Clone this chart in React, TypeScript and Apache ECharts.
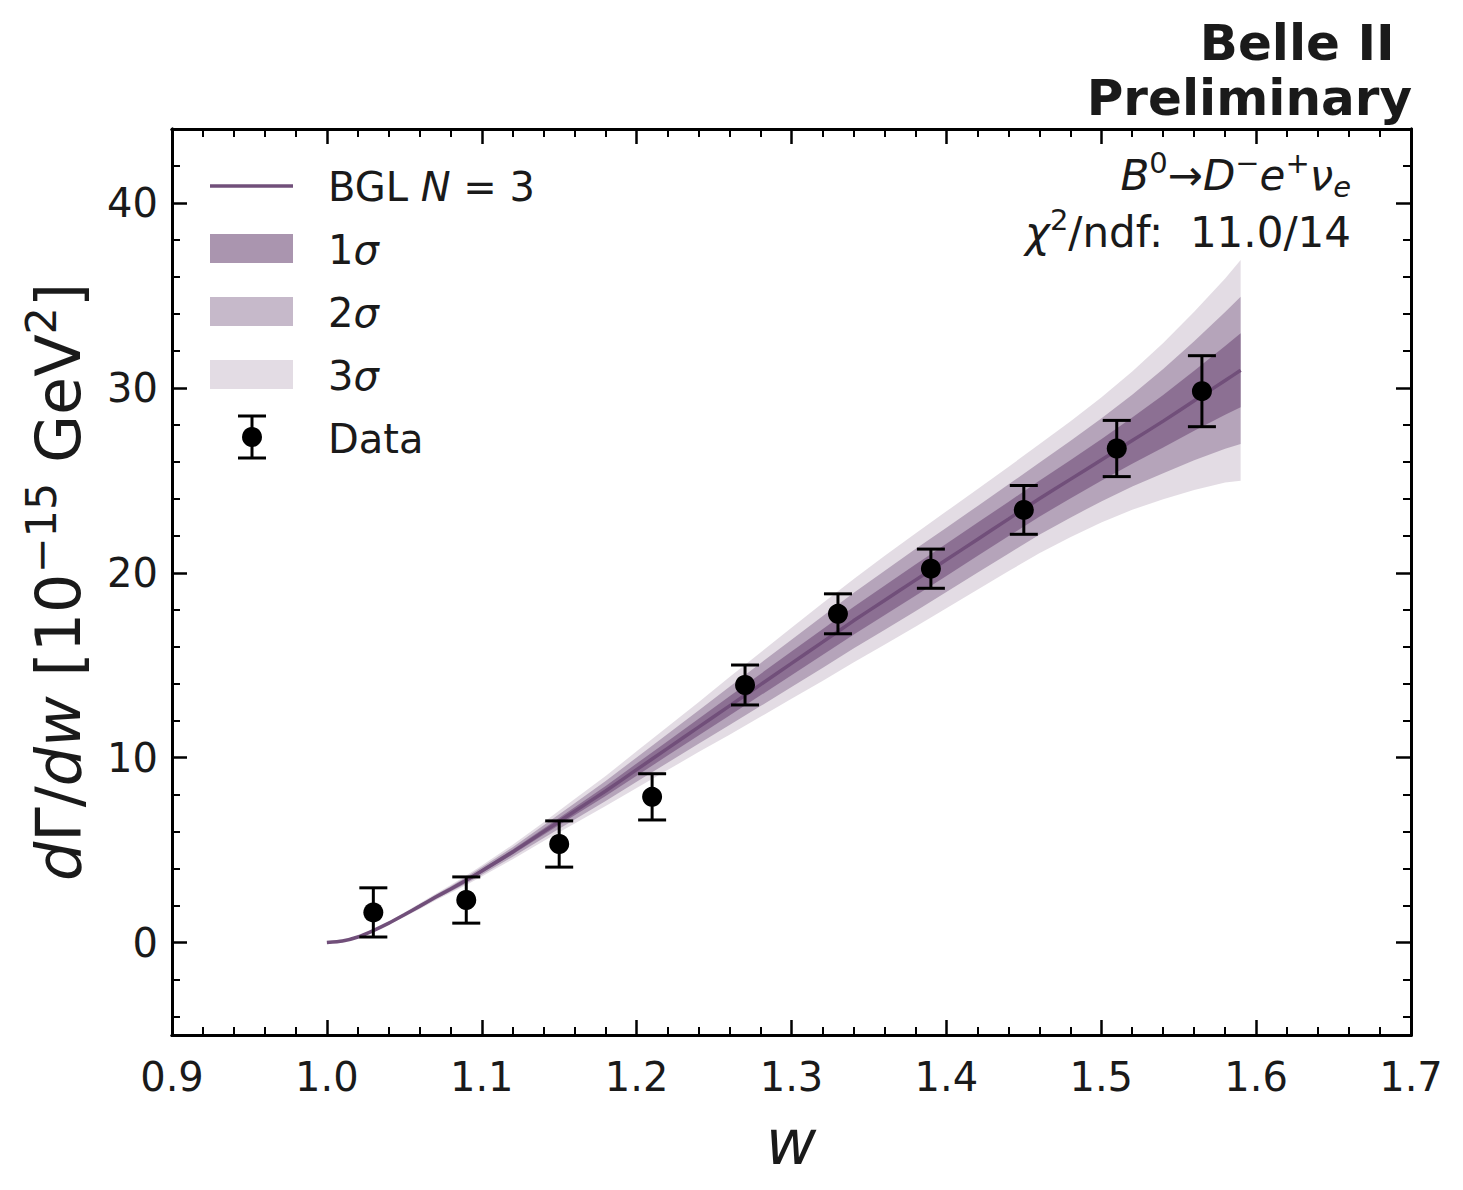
import React, { useEffect, useRef } from 'react';
import * as echarts from 'echarts';

// ---------- data ----------
const wGrid = [1.00, 1.01, 1.02, 1.03, 1.04, 1.05, 1.06, 1.07, 1.08, 1.09, 1.10, 1.12, 1.14, 1.16, 1.18, 1.20, 1.22, 1.24, 1.26, 1.28, 1.30, 1.32, 1.34, 1.36, 1.38, 1.40, 1.42, 1.44, 1.46, 1.48, 1.50, 1.52, 1.54, 1.56, 1.58, 1.59];
const central = [0, 0.08, 0.30, 0.65, 1.05, 1.5, 1.97, 2.45, 2.9, 3.37, 3.87, 4.9, 6.0, 7.1, 8.2, 9.35, 10.5, 11.65, 12.8, 13.95, 15.1, 16.25, 17.4, 18.5, 19.6, 20.7, 21.8, 22.9, 24.0, 25.05, 26.1, 27.15, 28.2, 29.3, 30.4, 30.95];
const sigma1 = [0, 0.005, 0.01, 0.02, 0.03, 0.04, 0.05, 0.06, 0.07, 0.085, 0.1, 0.13, 0.17, 0.22, 0.27, 0.33, 0.39, 0.45, 0.52, 0.58, 0.64, 0.7, 0.75, 0.8, 0.84, 0.87, 0.9, 0.93, 0.97, 1.03, 1.12, 1.25, 1.42, 1.62, 1.86, 2.0];
const sigma2 = [0, 0.01, 0.02, 0.04, 0.06, 0.08, 0.1, 0.12, 0.14, 0.17, 0.2, 0.26, 0.34, 0.44, 0.54, 0.66, 0.78, 0.9, 1.04, 1.16, 1.28, 1.4, 1.5, 1.6, 1.68, 1.74, 1.8, 1.87, 1.95, 2.07, 2.24, 2.48, 2.82, 3.22, 3.7, 3.98];
const sigma3 = [0, 0.015, 0.03, 0.06, 0.09, 0.12, 0.15, 0.18, 0.21, 0.26, 0.3, 0.39, 0.51, 0.66, 0.81, 0.99, 1.17, 1.35, 1.56, 1.74, 1.92, 2.1, 2.25, 2.4, 2.52, 2.62, 2.72, 2.82, 2.95, 3.13, 3.38, 3.74, 4.22, 4.82, 5.52, 5.97];

const dataW = [1.03, 1.09, 1.15, 1.21, 1.27, 1.33, 1.39, 1.45, 1.51, 1.565];
const dataY = [1.63, 2.3, 5.33, 7.88, 13.93, 17.78, 20.22, 23.4, 26.72, 29.82];
const dataErr = [1.33, 1.25, 1.25, 1.25, 1.08, 1.08, 1.06, 1.32, 1.52, 1.92];

const xTickLabels = [0.9, 1.0, 1.1, 1.2, 1.3, 1.4, 1.5, 1.6, 1.7];
const yTickLabels = [0, 10, 20, 30, 40];
const X_MIN = 0.9, X_MAX = 1.7, Y_MIN = -5, Y_MAX = 44;

// ---------- style ----------
const FONT = 'DejaVu Sans';
const TXT = '#1a1a1a';
const PURPLE = '#714f7a';
const bandColor = (a: number) => `rgba(113,79,122,${a})`;

const xMinor: number[] = [];
for (let k = 46; k <= 84; k++) { if (k % 5 !== 0) xMinor.push(Math.round(k * 2) / 100); }
const yMinor: number[] = [];
for (let v = -4; v <= 44; v += 2) { if (v % 10 !== 0) yMinor.push(v); }

const mkX = (position: string, values: number[], len: number, showLabel: boolean) => ({
  type: 'value', min: X_MIN, max: X_MAX, position, gridIndex: 0,
  axisLine: { show: true, onZero: false, lineStyle: { color: '#000', width: 3 } },
  axisTick: { show: true, inside: true, length: len, customValues: values, lineStyle: { color: '#000', width: len > 10 ? 2.5 : 2 } },
  axisLabel: showLabel
    ? { show: true, customValues: values, margin: 22, fontSize: 40, fontFamily: FONT, color: TXT, formatter: (v: number) => v.toFixed(1) }
    : { show: false },
  splitLine: { show: false },
});
const mkY = (position: string, values: number[], len: number, showLabel: boolean) => ({
  type: 'value', min: Y_MIN, max: Y_MAX, position, gridIndex: 0,
  axisLine: { show: true, onZero: false, lineStyle: { color: '#000', width: 3 } },
  axisTick: { show: true, inside: true, length: len, customValues: values, lineStyle: { color: '#000', width: len > 10 ? 2.5 : 2 } },
  axisLabel: showLabel
    ? { show: true, customValues: values, margin: 14, fontSize: 40, fontFamily: FONT, color: TXT, formatter: (v: number) => String(v) }
    : { show: false },
  splitLine: { show: false },
});

const bandSeries = (s: number[], color: string, z: number) => ({
  type: 'custom', silent: true, xAxisIndex: 0, yAxisIndex: 0, z,
  data: [[wGrid[0], central[0]]],
  encode: { x: 0, y: 1 },
  renderItem: (_p: any, api: any) => {
    const pts: number[][] = [];
    for (let i = 0; i < wGrid.length; i++) pts.push(api.coord([wGrid[i], central[i] + s[i]]));
    for (let i = wGrid.length - 1; i >= 0; i--) pts.push(api.coord([wGrid[i], central[i] - s[i]]));
    return { type: 'polygon', shape: { points: pts }, style: { fill: color } };
  },
});

const rich = (size: number) => ({
  r: { fontFamily: FONT, fontSize: size, fill: TXT, lineHeight: Math.round(size * 1.25) },
  i: { fontFamily: FONT, fontSize: size, fill: TXT, fontStyle: 'italic', lineHeight: Math.round(size * 1.25) },
  sup: { fontFamily: FONT, fontSize: Math.round(size * 0.7), fill: TXT, verticalAlign: 'top' },
  subi: { fontFamily: FONT, fontSize: Math.round(size * 0.7), fill: TXT, verticalAlign: 'bottom', fontStyle: 'italic' },
});

const txt = (x: number, y: number, text: string, size: number, align: string, extra: any = {}) => ({
  type: 'text', x, y, z: 100, ...extra,
  style: {
    text, rich: rich(size), fontFamily: FONT, fontSize: size, fill: TXT,
    align, textAlign: align, verticalAlign: 'middle', textVerticalAlign: 'middle',
  },
});

export default function App() {
  const ref = useRef<HTMLDivElement>(null);
  useEffect(() => {
    if (!ref.current) return;
    const chart = echarts.init(ref.current, null, { renderer: 'svg' });
    const legendX = 210, legendW = 83;
    const option: any = {
      animation: false,
      backgroundColor: '#fff',
      grid: { left: 172, top: 129, width: 1239, height: 906, containLabel: false },
      xAxis: [
        mkX('bottom', xTickLabels, 15, true),
        mkX('bottom', xMinor, 8, false),
        mkX('top', xTickLabels, 15, false),
        mkX('top', xMinor, 8, false),
      ],
      yAxis: [
        mkY('left', yTickLabels, 15, true),
        mkY('left', yMinor, 8, false),
        mkY('right', yTickLabels, 15, false),
        mkY('right', yMinor, 8, false),
      ],
      series: [
        bandSeries(sigma3, bandColor(0.2), 1),
        bandSeries(sigma2, bandColor(0.4), 2),
        bandSeries(sigma1, bandColor(0.6), 3),
        {
          type: 'line', xAxisIndex: 0, yAxisIndex: 0, z: 4, silent: true,
          data: wGrid.map((w, i) => [w, central[i]]),
          showSymbol: false, symbol: 'none', smooth: 0.2,
          lineStyle: { color: PURPLE, width: 3.5 },
        },
        {
          type: 'custom', xAxisIndex: 0, yAxisIndex: 0, z: 5, silent: true,
          data: dataW.map((w, i) => [w, dataY[i] - dataErr[i], dataY[i] + dataErr[i]]),
          encode: { x: 0, y: [1, 2] },
          renderItem: (_p: any, api: any) => {
            const x = api.value(0);
            const lo = api.coord([x, api.value(1)]);
            const hi = api.coord([x, api.value(2)]);
            const hw = 14;
            const st = { stroke: '#000', lineWidth: 3 };
            return {
              type: 'group', children: [
                { type: 'line', shape: { x1: lo[0], y1: lo[1], x2: hi[0], y2: hi[1] }, style: st },
                { type: 'line', shape: { x1: lo[0] - hw, y1: lo[1], x2: lo[0] + hw, y2: lo[1] }, style: st },
                { type: 'line', shape: { x1: hi[0] - hw, y1: hi[1], x2: hi[0] + hw, y2: hi[1] }, style: st },
              ],
            };
          },
        },
        {
          type: 'scatter', xAxisIndex: 0, yAxisIndex: 0, z: 6, silent: true,
          data: dataW.map((w, i) => [w, dataY[i]]),
          symbol: 'circle', symbolSize: 20, itemStyle: { color: '#000', opacity: 1 },
        },
      ],
      graphic: [
        // legend
        { type: 'line', z: 100, shape: { x1: legendX, y1: 186, x2: legendX + legendW, y2: 186 }, style: { stroke: PURPLE, lineWidth: 3.5 } },
        { type: 'rect', z: 100, shape: { x: legendX, y: 234, width: legendW, height: 29 }, style: { fill: bandColor(0.6) } },
        { type: 'rect', z: 100, shape: { x: legendX, y: 297, width: legendW, height: 29 }, style: { fill: bandColor(0.4) } },
        { type: 'rect', z: 100, shape: { x: legendX, y: 360, width: legendW, height: 29 }, style: { fill: bandColor(0.2) } },
        { type: 'line', z: 100, shape: { x1: 252, y1: 416, x2: 252, y2: 458 }, style: { stroke: '#000', lineWidth: 3 } },
        { type: 'line', z: 100, shape: { x1: 238, y1: 416, x2: 266, y2: 416 }, style: { stroke: '#000', lineWidth: 3 } },
        { type: 'line', z: 100, shape: { x1: 238, y1: 458, x2: 266, y2: 458 }, style: { stroke: '#000', lineWidth: 3 } },
        { type: 'circle', z: 101, shape: { cx: 252, cy: 437, r: 10 }, style: { fill: '#000' } },
        txt(328, 187, '{r|BGL }{i|N}{r| = 3}', 40, 'left'),
        txt(328, 250, '{r|1}{i|σ}', 40, 'left'),
        txt(328, 313, '{r|2}{i|σ}', 40, 'left'),
        txt(328, 376, '{r|3}{i|σ}', 40, 'left'),
        txt(328, 439, '{r|Data}', 40, 'left'),
        // annotations
        txt(1351, 175, '{i|B}{sup|0}{r|→}{i|D}{sup|−}{i|e}{sup|+}{i|ν}{subi|e}', 42, 'right'),
        txt(1351, 232, '{i|χ}{sup|2}{r|/ndf:  11.0/14}', 42, 'right'),
        // Belle II
        { type: 'text', x: 1412, y: 43, z: 100, style: { text: 'Belle II ', fontFamily: FONT, fontSize: 50, fontWeight: 'bold', fill: TXT, align: 'right', textAlign: 'right', verticalAlign: 'middle', textVerticalAlign: 'middle' } },
        { type: 'text', x: 1412, y: 98, z: 100, style: { text: 'Preliminary', fontFamily: FONT, fontSize: 50, fontWeight: 'bold', fill: TXT, align: 'right', textAlign: 'right', verticalAlign: 'middle', textVerticalAlign: 'middle' } },
        // axis titles
        txt(791, 1142, '{i|w}', 62, 'center'),
        txt(58, 582, '{i|d}{r|Γ/}{i|dw}{r| [10}{sup|−15}{r| GeV}{sup|2}{r|]}', 62, 'center', { rotation: Math.PI / 2 }),
      ],
    };
    chart.setOption(option);
    return () => chart.dispose();
  }, []);
  return (
    <div
      ref={ref}
      style={{ position: 'fixed', left: 0, top: 0, width: 1463, height: 1190, background: '#fff' }}
    />
  );
}
